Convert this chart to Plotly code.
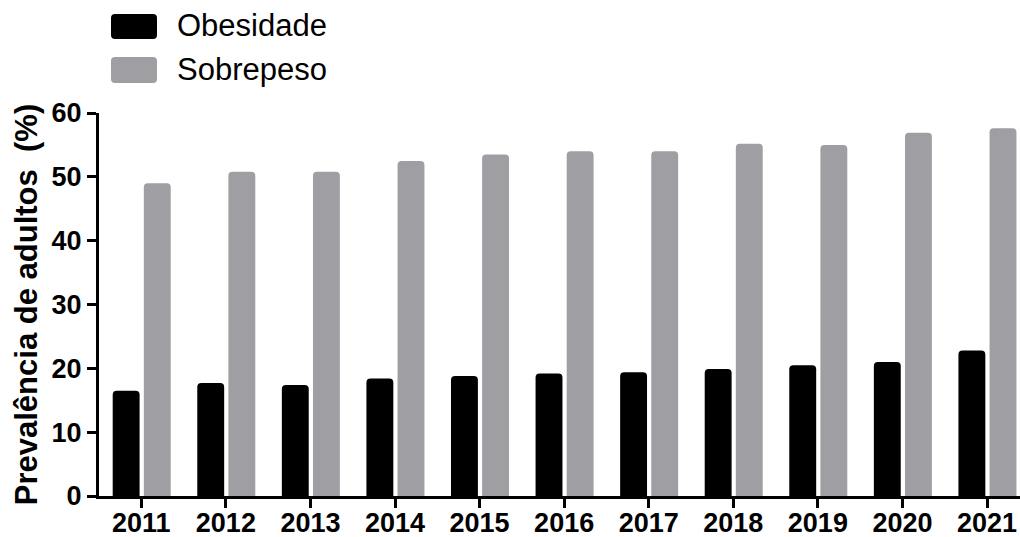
import plotly.graph_objects as go

# Prevalência de obesidade e sobrepeso em adultos, 2011-2021
anos = ["2011", "2012", "2013", "2014", "2015", "2016", "2017", "2018", "2019", "2020", "2021"]
obesidade = [16.5, 17.7, 17.4, 18.4, 18.8, 19.2, 19.4, 19.9, 20.5, 21.0, 22.8]
sobrepeso = [49.0, 50.8, 50.8, 52.5, 53.5, 54.0, 54.0, 55.2, 55.0, 56.9, 57.6]

series_nomes = ["Obesidade", "Sobrepeso"]
cores = ["#000000", "#9f9ea3"]

W, H = 1020, 537
ML, MR, MT, MB = 99, 0, 113, 41
plot_w = W - ML - MR
plot_h = H - MT - MB

FONT = "Arial, Liberation Sans, Helvetica, sans-serif"

fig = go.Figure()
fig.add_trace(go.Bar(x=anos, y=obesidade, name=series_nomes[0],
                     marker=dict(color=cores[0], line=dict(width=0)),
                     width=0.318, offset=-0.338, showlegend=False))
fig.add_trace(go.Bar(x=anos, y=sobrepeso, name=series_nomes[1],
                     marker=dict(color=cores[1], line=dict(width=0)),
                     width=0.318, offset=0.03, showlegend=False))


def px_x(px):
    return (px - ML) / plot_w


def px_y(py):
    return (H - MB - py) / plot_h


def rounded_rect(x0, y0, x1, y1, r):
    # rectangle with rounded corners, pixel input -> paper-space SVG path
    X = px_x
    Y = px_y
    return (f"M{X(x0 + r)},{Y(y0)} L{X(x1 - r)},{Y(y0)} Q{X(x1)},{Y(y0)} {X(x1)},{Y(y0 + r)} "
            f"L{X(x1)},{Y(y1 - r)} Q{X(x1)},{Y(y1)} {X(x1 - r)},{Y(y1)} "
            f"L{X(x0 + r)},{Y(y1)} Q{X(x0)},{Y(y1)} {X(x0)},{Y(y1 - r)} "
            f"L{X(x0)},{Y(y0 + r)} Q{X(x0)},{Y(y0)} {X(x0 + r)},{Y(y0)} Z")


# Custom legend: large rounded swatches with labels
shapes = []
annotations = []
legend_rows = [(14, 39), (57, 83)]
for nome, cor, (top, bot) in zip(series_nomes, cores, legend_rows):
    shapes.append(dict(type="path", xref="paper", yref="paper",
                       path=rounded_rect(111, top, 157, bot, 4),
                       fillcolor=cor, line=dict(width=0), layer="above"))
    annotations.append(dict(text=nome, xref="paper", yref="paper",
                            x=px_x(175), y=px_y((top + bot) / 2 - 1),
                            xanchor="left", yanchor="middle", showarrow=False,
                            font=dict(family=FONT, size=31, color="#000000")))

fig.update_layout(
    width=W, height=H,
    margin=dict(l=ML, r=MR, t=MT, b=MB, pad=0),
    paper_bgcolor="white", plot_bgcolor="white",
    barmode="overlay", barcornerradius=4,
    shapes=shapes, annotations=annotations,
    xaxis=dict(type="category", range=[-0.5, 10.39], showgrid=False, zeroline=False,
               showline=True, linecolor="black", linewidth=3,
               ticks="outside", ticklen=9, tickwidth=3, tickcolor="black",
               ticklabelstandoff=-8,
               tickfont=dict(family=FONT, size=27, color="black", weight="bold"),
               automargin=False),
    yaxis=dict(range=[0, 60], dtick=10, showgrid=False, zeroline=False,
               showline=True, linecolor="black", linewidth=3,
               ticks="outside", ticklen=9, tickwidth=3, tickcolor="black",
               tickfont=dict(family=FONT, size=27, color="black", weight="bold"),
               title=dict(text="Prevalência de adultos\u00a0 (%)", standoff=5,
                          font=dict(family=FONT, size=31, color="black", weight="bold")),
               automargin=False),
)

fig.write_html("out.html")
